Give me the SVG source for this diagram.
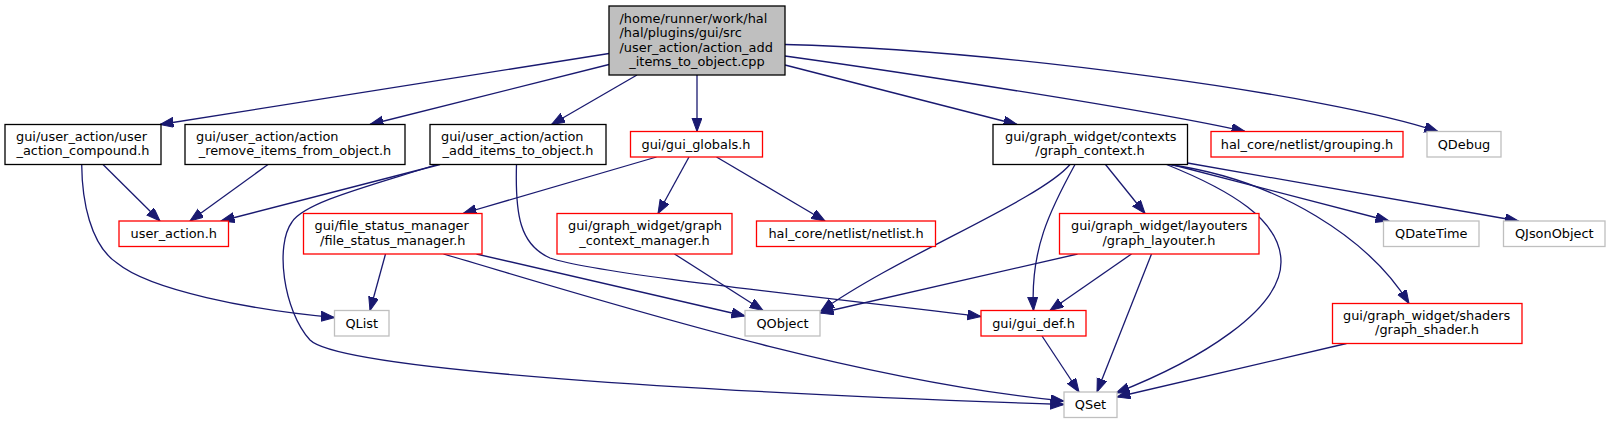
<svg xmlns="http://www.w3.org/2000/svg" width="1610" height="424" viewBox="0 0 1610 424">
<style>
rect{fill:#ffffff;stroke-width:1.3}
.k{stroke:#000000}
.r{stroke:#ff0000}
.g{stroke:#bfbfbf}
.root{fill:#bfbfbf;stroke:#000000}
text{font-family:"DejaVu Sans","Liberation Sans",sans-serif;font-size:12.9px;fill:#000000}
.m{text-anchor:middle}
#edges path{fill:none;stroke:#191970;stroke-width:1.3;marker-end:url(#ah)}
</style>
<defs>
<marker id="ah" markerWidth="16" markerHeight="12" refX="13.5" refY="5" orient="auto" markerUnits="userSpaceOnUse">
<path d="M0,0 L13.5,5 L0,10 z" fill="#191970" stroke="#191970" stroke-width="1"/>
</marker>
</defs>
<rect x="0" y="0" width="1610" height="424" style="fill:#ffffff;stroke:none"/>
<g id="edges">
<path d="M609,53.5 L160,124.5"/>
<path d="M609,64.5 L370,124.5"/>
<path d="M637,75 L551.5,124.5"/>
<path d="M697,75 L697,131.5"/>
<path d="M785,65 L1017,124.5"/>
<path d="M785,56 C900,72 1150,110 1245,131.5"/>
<path d="M785,44.5 C1000,50 1330,95 1438,131.5"/>
<path d="M440,164.5 L221,221"/>
<path d="M437,164.5 C370,186 305,202 292,222 C275,245 283,310 310,340 C340,370 700,392 1064,404.5"/>
<path d="M516.5,164.5 C515,215 520,245 550,258 C600,275 850,300 981,316.5"/>
<path d="M103,164.5 L160,221"/>
<path d="M81.7,164.5 C82,200 90,245 117,263 C150,290 250,310 334.5,317.5"/>
<path d="M268,164.5 L190,221"/>
<path d="M656.5,157 L463,213.5"/>
<path d="M689,157 L658,213.5"/>
<path d="M716.5,157 L825,221"/>
<path d="M1070,164.5 C1040,200 900,255 821,311"/>
<path d="M1075,164.5 C1050,210 1030,250 1033.5,310.5"/>
<path d="M1105.5,164.5 L1145,213.5"/>
<path d="M1166.5,164.5 C1230,190 1281,220 1281,262 C1281,310 1200,360 1116,393"/>
<path d="M1169,164.5 C1280,180 1370,240 1409,303.5"/>
<path d="M1171.5,164.5 L1389,221"/>
<path d="M1187.5,163 L1518.5,221"/>
<path d="M385.5,254 L370,310.5"/>
<path d="M476.5,254 L745,316"/>
<path d="M443.5,254 C600,300 850,380 1064,401"/>
<path d="M674.5,254 L763,310.5"/>
<path d="M1077.5,254 L820,313"/>
<path d="M1131.5,254 L1050,310.5"/>
<path d="M1151.5,254 L1097,392"/>
<path d="M1042,336 L1079,392"/>
<path d="M1346.5,343.5 L1117,397"/>
</g>
<g id="n_root"><rect class="root" x="609" y="6" width="176" height="69"/>
<text x="619.5" y="22.9">/home/runner/work/hal</text>
<text x="619.5" y="37.3">/hal/plugins/gui/src</text>
<text x="619.5" y="51.7">/user_action/action_add</text>
<text class="m" x="697" y="66.1">_items_to_object.cpp</text></g>
<g id="n_compound"><rect class="k" x="5" y="124.5" width="156" height="40"/>
<text x="16" y="140.9">gui/user_action/user</text>
<text class="m" x="83" y="155.3">_action_compound.h</text></g>
<g id="n_remove"><rect class="k" x="185" y="124.5" width="220" height="40"/>
<text x="196" y="140.9">gui/user_action/action</text>
<text class="m" x="295" y="155.3">_remove_items_from_object.h</text></g>
<g id="n_add"><rect class="k" x="430" y="124.5" width="176" height="40"/>
<text x="441" y="140.9">gui/user_action/action</text>
<text class="m" x="518" y="155.3">_add_items_to_object.h</text></g>
<g id="n_globals"><rect class="r" x="630.5" y="131.5" width="132" height="25.5"/>
<text class="m" x="696" y="148.5">gui/gui_globals.h</text></g>
<g id="n_graph_context"><rect class="k" x="993" y="124.5" width="194.5" height="40"/>
<text x="1005" y="140.9">gui/graph_widget/contexts</text>
<text class="m" x="1090" y="155.3">/graph_context.h</text></g>
<g id="n_grouping"><rect class="r" x="1211" y="131.5" width="192" height="25.5"/>
<text class="m" x="1307" y="148.5">hal_core/netlist/grouping.h</text></g>
<g id="n_qdebug"><rect class="g" x="1427" y="131.5" width="74" height="25.5"/>
<text class="m" x="1464" y="148.5">QDebug</text></g>
<g id="n_user_action"><rect class="r" x="119" y="221" width="109.5" height="25.5"/>
<text class="m" x="173.8" y="238">user_action.h</text></g>
<g id="n_file_status"><rect class="r" x="303.5" y="213.5" width="178.5" height="40.5"/>
<text x="314.5" y="230.1">gui/file_status_manager</text>
<text class="m" x="392.8" y="244.5">/file_status_manager.h</text></g>
<g id="n_gcm"><rect class="r" x="557" y="213.5" width="175" height="40.5"/>
<text x="568" y="230.1">gui/graph_widget/graph</text>
<text class="m" x="644.5" y="244.5">_context_manager.h</text></g>
<g id="n_netlist"><rect class="r" x="756.5" y="221" width="179" height="25.5"/>
<text class="m" x="846" y="238">hal_core/netlist/netlist.h</text></g>
<g id="n_layouter"><rect class="r" x="1059.5" y="213.5" width="199.5" height="40.5"/>
<text x="1071" y="230.1">gui/graph_widget/layouters</text>
<text class="m" x="1159" y="244.5">/graph_layouter.h</text></g>
<g id="n_qdatetime"><rect class="g" x="1383.5" y="221" width="95.5" height="25.5"/>
<text class="m" x="1431.3" y="238">QDateTime</text></g>
<g id="n_qjson"><rect class="g" x="1503.5" y="221" width="101.5" height="25.5"/>
<text class="m" x="1554.3" y="238">QJsonObject</text></g>
<g id="n_qlist"><rect class="g" x="334.5" y="310.5" width="54.5" height="25.5"/>
<text class="m" x="361.8" y="327.5">QList</text></g>
<g id="n_qobject"><rect class="g" x="745" y="310.5" width="75" height="25.5"/>
<text class="m" x="782.5" y="327.5">QObject</text></g>
<g id="n_gui_def"><rect class="r" x="981" y="310.5" width="105" height="25.5"/>
<text class="m" x="1033.5" y="327.5">gui/gui_def.h</text></g>
<g id="n_shader"><rect class="r" x="1332.5" y="303.5" width="189.5" height="40"/>
<text x="1343" y="319.9">gui/graph_widget/shaders</text>
<text class="m" x="1427" y="334.3">/graph_shader.h</text></g>
<g id="n_qset"><rect class="g" x="1064" y="392" width="53" height="25.5"/>
<text class="m" x="1090.5" y="409">QSet</text></g>
</svg>
